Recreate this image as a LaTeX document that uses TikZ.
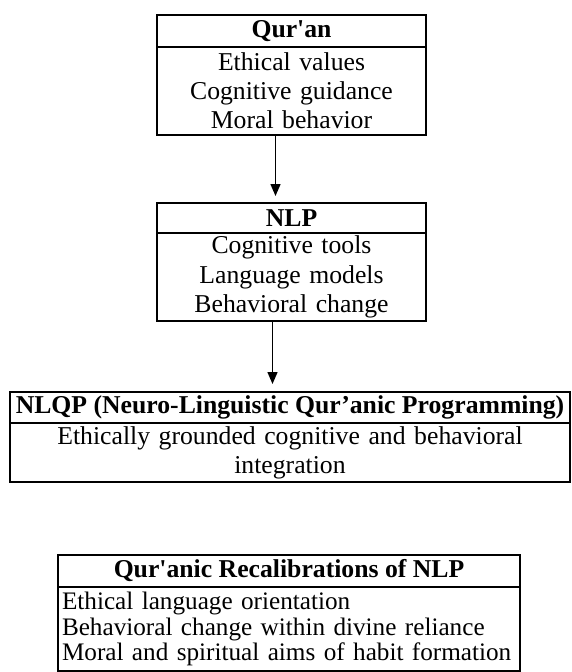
\documentclass[tikz,border=0pt]{standalone}
\usepackage{fontspec}
\setmainfont{Liberation Serif}[Ligatures=TeXOff]
\usetikzlibrary{positioning,arrows.meta}
\hyphenpenalty=10000

\newcommand{\fsz}[2]{\fontsize{#1}{#2}\selectfont}

\tikzset{
  hdr/.style={draw, line width=2.6pt, inner sep=0pt, outer sep=0pt,
    font=\bfseries\fsz{25.7}{28}},
  bodytxt/.style={draw, line width=1.6pt, inner xsep=4pt, inner ysep=0pt, outer sep=0pt,
    align=center, font=\fsz{25.7}{29.2}},
  flow/.style={-{Triangle[length=12pt,width=10pt]}, line width=1.4pt}
}

\begin{document}
\begin{tikzpicture}[x=1pt, y=-1pt]
    \useasboundingbox (0,0) rectangle (571,672);
    % Qur'an
    \node[hdr, minimum width=269pt, minimum height=32pt] (quran) at (291.5,31) {Qur'an};
    \node[bodytxt, text width=261pt, minimum height=88pt, below=0pt of quran] (quranbody) {Ethical values\\Cognitive guidance\\Moral behavior};
    % NLP
    \node[hdr, minimum width=269pt, minimum height=30pt] (nlp) at (291.5,218) {NLP};
    \node[bodytxt, text width=261pt, minimum height=88pt, below=0pt of nlp] (nlpbody) {Cognitive tools\\Language models\\Behavioral change};
    % NLQP
    \node[hdr, minimum width=560pt, minimum height=31pt] (nlqp) at (290,407.5) {NLQP (Neuro-Linguistic Qur’anic Programming)};
    \node[bodytxt, text width=552pt, minimum height=59pt, below=0pt of nlqp] (nlqpbody) {Ethically grounded cognitive and behavioral\\integration};
    % recalibrations
    \node[hdr, minimum width=462pt, minimum height=32pt] (recal) at (289,571) {Qur'anic Recalibrations of NLP};
    \node[bodytxt, font=\fsz{25.2}{25.5}, text width=454pt, align=left, minimum height=84pt, below=0pt of recal] (recalbody) {Ethical language orientation\\Behavioral change within divine reliance\\Moral and spiritual aims of habit formation};
    \draw[flow] ([xshift=-16pt]quranbody.south) -- ([xshift=-16pt, yshift=7pt]nlp.north);
    \draw[flow] ([xshift=-19pt]nlpbody.south) -- ([xshift=-17.5pt, yshift=8pt]nlqp.north);
\end{tikzpicture}
\end{document}
